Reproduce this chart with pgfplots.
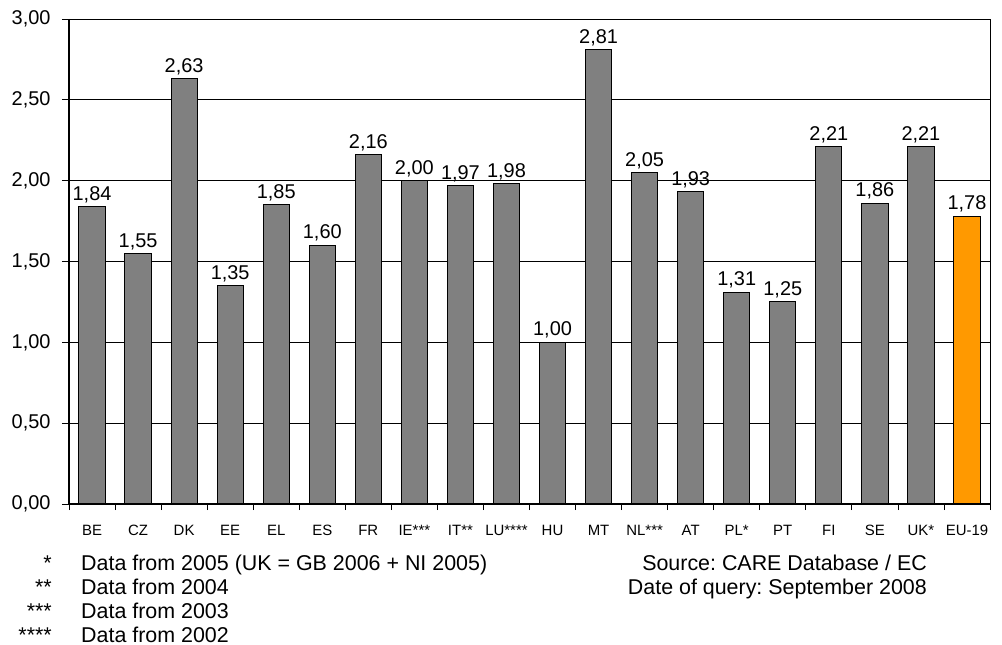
\documentclass[border=0pt]{standalone}
\usepackage{pgfplots}
\pgfplotsset{compat=1.18}
\usepackage{fontspec}
\setmainfont{Liberation Sans}
\frenchspacing
\definecolor{bargray}{HTML}{808080}
\definecolor{barorange}{HTML}{FF9900}

\begin{document}
\begin{tikzpicture}[x=1bp,y=1bp]
\useasboundingbox (-69bp,-141bp) rectangle (933bp,504bp);
\begin{axis}[
  at={(0,0)}, anchor=south west,
  scale only axis, width=921bp, height=485bp,
  ymin=0, ymax=3, ytick={0,0.5,...,3},
  xmin=-0.5, xmax=19.5,
  xtick={0,...,19},
  xticklabels={BE,CZ,DK,EE,EL,ES,FR,IE***,IT**,LU****,HU,MT,NL***,AT,PL*,PT,FI,SE,UK*,EU-19},
  minor xtick={-0.5,0.5,...,19.5},
  major x tick style={draw=none},
  minor tick length=6bp, major tick length=7bp,
  tick align=outside, tick pos=left,
  tick style={black, line width=0.8bp},
  ymajorgrids, grid style={black, line width=0.8bp},
  axis line style={line width=0.8bp},
  ybar, bar width=0.57, bar shift=0pt,
  /pgf/number format/.cd, use comma, fixed, fixed zerofill, precision=2, assume math mode=true,
  /pgfplots/.cd,
  yticklabel style={font=\fontsize{20}{24}\selectfont, xshift=-8bp},
  xticklabel style={font=\fontsize{15}{18}\selectfont, yshift=-11bp},
  nodes near coords,
  every node near coord/.append style={font=\fontsize{20}{24}\selectfont, black},
  clip=false,
]
\addplot[fill=bargray, draw=black, line width=1bp] coordinates {
  (0,1.84) (1,1.55) (2,2.63) (3,1.35) (4,1.85) (5,1.60) (6,2.16) (7,2.00)
  (8,1.97) (9,1.98) (10,1.00) (11,2.81) (12,2.05) (13,1.93) (14,1.31)
  (15,1.25) (16,2.21) (17,1.86) (18,2.21)
};
\addplot[fill=barorange, draw=black, line width=1bp] coordinates {(19,1.78)};
\end{axis}
\draw[line width=2bp] (0,485bp) -- (0,0) -- (921bp,0);
% footnotes
\begin{scope}[every node/.style={font=\fontsize{21.5}{24}\selectfont, inner sep=0pt}]
\node[anchor=base east] at (-17bp,-66bp) {*};
\node[anchor=base east] at (-17bp,-90bp) {**};
\node[anchor=base east] at (-17bp,-114bp) {***};
\node[anchor=base east] at (-17bp,-138bp) {****};
\node[anchor=base west] at (12bp,-66bp) {Data from 2005 (UK = GB 2006 + NI 2005)};
\node[anchor=base west] at (12bp,-90bp) {Data from 2004};
\node[anchor=base west] at (12bp,-114bp) {Data from 2003};
\node[anchor=base west] at (12bp,-138bp) {Data from 2002};
\node[anchor=base east] at (858bp,-66bp) {Source: CARE Database / EC};
\node[anchor=base east] at (858bp,-90bp) {Date of query: September 2008};
\end{scope}
\end{tikzpicture}
\end{document}
